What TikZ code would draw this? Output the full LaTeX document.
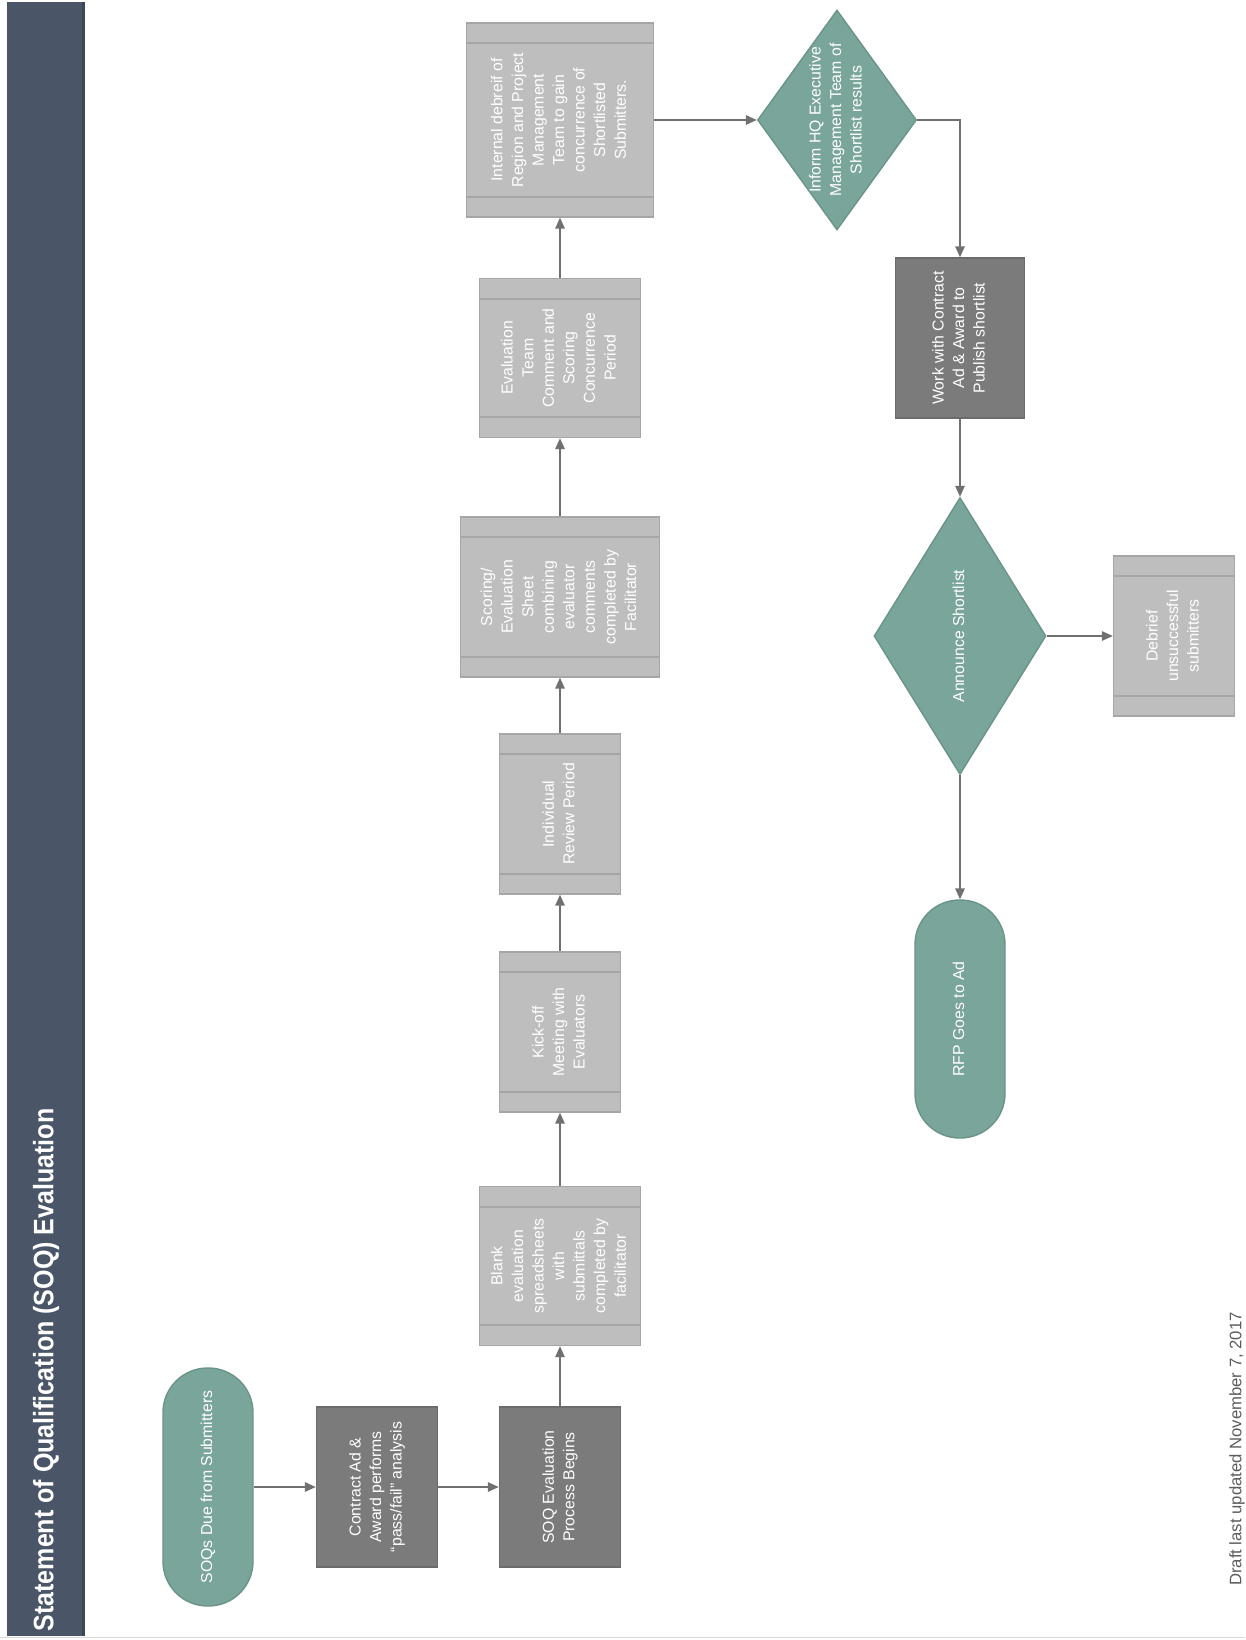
\documentclass[tikz,border=0pt]{standalone}
\usepackage{fontspec}
\setmainfont{Liberation Sans}
\usepackage{tikz}
\usetikzlibrary{arrows.meta,shapes.geometric,calc}
\definecolor{barslate}{HTML}{4A5667}
\definecolor{bardark}{HTML}{3C4656}
\definecolor{tealfill}{HTML}{79A59A}
\definecolor{tealline}{HTML}{6A9488}
\definecolor{lightfill}{HTML}{BEBEBE}
\definecolor{lightline}{HTML}{A6A6A6}
\definecolor{darkfill}{HTML}{7B7B7B}
\definecolor{darkline}{HTML}{6B6B6B}
\definecolor{arrowgray}{HTML}{707070}
\definecolor{notegray}{HTML}{5C5C5C}
\definecolor{pagegray}{HTML}{D9D9D9}
\newcommand{\vtab}[1]{\rotatebox{90}{\begin{tabular}{c}#1\end{tabular}}}

\begin{document}
\begin{tikzpicture}[x=0.02cm, y=-0.02cm,
   font=\fontsize{9}{11.7}\selectfont,
   arr/.style={draw=arrowgray, line width=0.8pt, -{Triangle[length=0.22cm,width=0.19cm]}},
   terminal/.style={draw=tealline, fill=tealfill, line width=0.8pt, rounded corners=0.89cm,
     text=white, minimum width=1.8cm, minimum height=4.76cm, inner sep=0pt},
   darkbox/.style={draw=darkline, fill=darkfill, line width=0.8pt, text=white,
     minimum width=2.42cm, minimum height=3.2cm, inner sep=0pt},
   procbox/.style={draw=lightline, fill=lightfill, line width=0.8pt, text=white,
     minimum width=2.42cm, minimum height=3.2cm, inner sep=0pt},
   decision/.style={diamond, draw=tealline, fill=tealfill, line width=0.8pt, inner sep=0pt},
   dtext/.style={text=white, inner sep=0pt},
   bandline/.style={draw=lightline, line width=1pt}]
  \useasboundingbox (0,0) rectangle (1245,1640);
  % title bar
  \fill[barslate] (7,2) rectangle (85,1636);
  \fill[bardark] (82,2) rectangle (85,1636);
  \node[rotate=90, text=white, font=\bfseries\fontsize{16}{19}\selectfont] (title) at (46,1370)
    {\scalebox{0.89}[1]{Statement of Qualification (SOQ) Evaluation}};
  \draw[pagegray] (0,1637) -- (1245,1637);
  % first column
  \node[terminal] (soq) at (208,1487) {\vtab{SOQs Due from Submitters}};
  \node[darkbox] (cad) at (377,1487) {\vtab{Contract Ad \& \\ Award performs \\ “pass/fail” analysis}};
  \node[darkbox] (soqeval) at (560,1487) {\vtab{SOQ Evaluation \\ Process Begins}};
  % evaluation steps
  \node[procbox, minimum width=3.22cm, minimum height=3.18cm] (blank) at (560,1266) {\vtab{Blank \\ evaluation \\ spreadsheets \\ with \\ submittals \\ completed by \\ facilitator}};
  \node[procbox] (kickoff) at (560,1032) {\vtab{Kick-off \\ Meeting with \\ Evaluators}};
  \node[procbox] (review) at (560,814) {\vtab{Individual \\ Review Period}};
  \node[procbox, minimum width=3.98cm] (scoring) at (560,597) {\vtab{Scoring/ \\ Evaluation \\ Sheet \\ combining \\ evaluator \\ comments \\ completed by \\ Facilitator}};
  \node[procbox, minimum width=3.22cm, minimum height=3.18cm] (concur) at (560,358) {\vtab{Evaluation \\ Team \\ Comment and \\ Scoring \\ Concurrence \\ Period}};
  \node[procbox, minimum width=3.74cm, minimum height=3.88cm] (internal) at (560,120) {\vtab{Internal debreif of \\ Region and Project \\ Management \\ Team to gain \\ concurrence of \\ Shortlisted \\ Submitters.}};
  % shortlist
  \node[decision, minimum width=3.18cm, minimum height=4.4cm,
    label={[dtext]center:{\vtab{Inform HQ Executive \\ Management Team of \\ Shortlist results}}}] (inform) at (837,120) {};
  \node[darkbox, minimum width=2.58cm] (publish) at (960,338) {\vtab{Work with Contract \\ Ad \& Award to \\ Publish shortlist}};
  \node[decision, minimum width=3.44cm, minimum height=5.54cm,
    label={[dtext]center:{\vtab{Announce Shortlist}}}] (announce) at (960,636) {};
  \node[procbox] (unsucc) at (1174,636) {\vtab{Debrief \\ unsuccessful \\ submitters}};
  \node[terminal] (rfp) at (960,1019) {\vtab{RFP Goes to Ad}};
  % bands of the process boxes
  \foreach \n in {blank,kickoff,review,scoring,concur,internal,unsucc}
    \draw[bandline] ([yshift=-0.42cm]\n.north west) -- ([yshift=-0.42cm]\n.north east)
                    ([yshift=0.42cm]\n.south west) -- ([yshift=0.42cm]\n.south east);
  % connectors
  \draw[arr] (soq) -- (cad);
  \draw[arr] (cad) -- (soqeval);
  \draw[arr] (soqeval) -- (blank);
  \draw[arr] (blank) -- (kickoff);
  \draw[arr] (kickoff) -- (review);
  \draw[arr] (review) -- (scoring);
  \draw[arr] (scoring) -- (concur);
  \draw[arr] (concur) -- (internal);
  \draw[arr] (internal) -- (inform);
  \draw[arr] (inform.east) -| (publish.north);
  \draw[arr] (publish) -- (announce);
  \draw[arr] (announce) -- (unsucc);
  \draw[arr] (announce) -- (rfp);
  % footer
  \node[rotate=90, text=notegray, font=\fontsize{9.5}{11}\selectfont] (note) at (1237,1449)
    {Draft last updated November 7, 2017};
\end{tikzpicture}
\end{document}
